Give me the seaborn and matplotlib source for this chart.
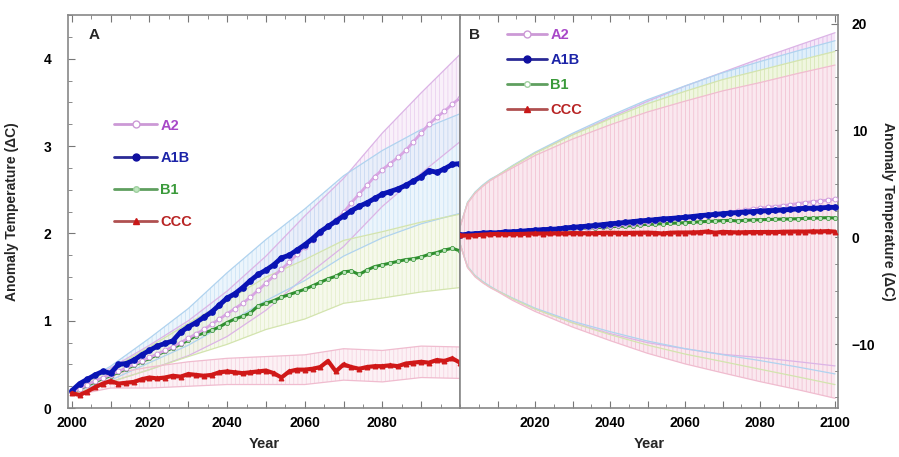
import numpy as np
import matplotlib
matplotlib.use("Agg")
import matplotlib.pyplot as plt
from matplotlib.lines import Line2D
from matplotlib.ticker import MultipleLocator
import seaborn as sns

# years of the mean curves (every 2 years)
years = np.arange(2000, 2101, 2)

a1b = [0.20, 0.28, 0.33, 0.38, 0.42, 0.40, 0.50, 0.51, 0.55, 0.61,
       0.66, 0.71, 0.74, 0.77, 0.87, 0.93, 0.98, 1.04, 1.10, 1.18,
       1.26, 1.31, 1.38, 1.46, 1.53, 1.58, 1.64, 1.72, 1.75, 1.81,
       1.87, 1.94, 2.02, 2.08, 2.14, 2.20, 2.26, 2.31, 2.35, 2.40,
       2.45, 2.48, 2.51, 2.55, 2.60, 2.65, 2.72, 2.70, 2.74, 2.79, 2.80]
a2 = [0.18, 0.22, 0.27, 0.31, 0.35, 0.38, 0.42, 0.46, 0.50, 0.54,
      0.58, 0.62, 0.66, 0.70, 0.75, 0.80, 0.85, 0.90, 0.96, 1.02,
      1.08, 1.14, 1.20, 1.27, 1.35, 1.43, 1.51, 1.59, 1.67, 1.76,
      1.85, 1.93, 2.01, 2.08, 2.15, 2.24, 2.35, 2.45, 2.55, 2.65,
      2.73, 2.80, 2.87, 2.95, 3.05, 3.15, 3.25, 3.33, 3.40, 3.48, 3.55]
b1 = [0.18, 0.22, 0.26, 0.30, 0.34, 0.37, 0.41, 0.45, 0.49, 0.53,
      0.57, 0.61, 0.65, 0.69, 0.73, 0.78, 0.83, 0.86, 0.89, 0.93,
      0.98, 1.02, 1.05, 1.09, 1.17, 1.20, 1.23, 1.27, 1.30, 1.33,
      1.36, 1.40, 1.44, 1.48, 1.51, 1.56, 1.57, 1.53, 1.58, 1.62,
      1.64, 1.66, 1.68, 1.70, 1.71, 1.73, 1.76, 1.78, 1.81, 1.83, 1.80]
ccc = [0.17, 0.15, 0.19, 0.24, 0.28, 0.31, 0.28, 0.29, 0.30, 0.33,
       0.35, 0.34, 0.35, 0.37, 0.36, 0.39, 0.38, 0.37, 0.38, 0.41,
       0.42, 0.41, 0.40, 0.41, 0.42, 0.43, 0.40, 0.35, 0.42, 0.44,
       0.44, 0.45, 0.47, 0.54, 0.42, 0.50, 0.47, 0.45, 0.47, 0.48,
       0.48, 0.49, 0.48, 0.51, 0.52, 0.53, 0.52, 0.55, 0.54, 0.57, 0.52]

# panel A: half width of the spread at each decade
band_years_a = [2000, 2010, 2020, 2030, 2040, 2050, 2060, 2070, 2080, 2090, 2100]
hw_a2 = [0.02, 0.08, 0.14, 0.20, 0.26, 0.31, 0.35, 0.39, 0.42, 0.46, 0.50]
hw_a1b = [0.02, 0.08, 0.14, 0.21, 0.29, 0.35, 0.41, 0.46, 0.50, 0.54, 0.57]
hw_b1 = [0.02, 0.07, 0.13, 0.19, 0.25, 0.30, 0.34, 0.36, 0.38, 0.40, 0.42]
hw_ccc = [0.03, 0.08, 0.12, 0.14, 0.15, 0.16, 0.17, 0.18, 0.18, 0.18, 0.18]

# panel B: half width of the (much larger) spread
band_years_b = [2000, 2002, 2004, 2006, 2008, 2010, 2014, 2020, 2030,
                2040, 2050, 2060, 2070, 2080, 2090, 2100]
hw_b = [0.8, 3.0, 3.9, 4.5, 5.0, 5.4, 6.2, 7.3, 8.8,
        10.1, 11.3, 12.3, 13.2, 14.0, 14.8, 15.6]

names = ["A2", "A1B", "B1", "CCC"]
means = {"A2": a2, "A1B": a1b, "B1": b1, "CCC": ccc}
hws_a = {"A2": hw_a2, "A1B": hw_a1b, "B1": hw_b1, "CCC": hw_ccc}

line_col = {"A2": "#d9a6e3", "A1B": "#0a14b4", "B1": "#2f8f2f", "CCC": "#d01818"}
text_col = {"A2": "#a848c8", "A1B": "#1c24a8", "B1": "#3a9a3a", "CCC": "#b82424"}
fill_col = {"A2": "#f5e6f8", "A1B": "#e0effa", "B1": "#f0f6e0", "CCC": "#fae8ef"}
hatch_col = {"A2": "#dcb4e6", "A1B": "#b0d3ef", "B1": "#d3e4ae", "CCC": "#f0bccf"}

sns.set_style("ticks")
plt.rcParams["font.family"] = ["Liberation Sans", "DejaVu Sans"]
plt.rcParams["font.weight"] = "bold"
plt.rcParams["hatch.linewidth"] = 0.5

fig = plt.figure(figsize=(8.99, 4.57), dpi=100)
axA = fig.add_axes([0.0756, 0.107, 0.4361, 0.860])
axB = fig.add_axes([0.5117, 0.107, 0.4205, 0.860])


def draw_band(ax, name, bx, hw, alpha):
    m = np.asarray(means[name])[np.isin(years, bx)]
    lo = m - np.asarray(hw)
    hi = m + np.asarray(hw)
    ax.fill_between(bx, lo, hi, facecolor=fill_col[name], edgecolor=hatch_col[name],
                    hatch="||||", linewidth=0, alpha=alpha, zorder=1)
    ax.plot(bx, lo, color=hatch_col[name], lw=0.9, zorder=2)
    ax.plot(bx, hi, color=hatch_col[name], lw=0.9, zorder=2)


def draw_means(ax):
    sns.lineplot(x=years, y=b1, ax=ax, color=line_col["B1"], lw=2.2, marker="o",
                 markersize=3, markerfacecolor="#bfe6bf", markeredgecolor=line_col["B1"],
                 markeredgewidth=0.5, zorder=4)
    sns.lineplot(x=years, y=a2, ax=ax, color=line_col["A2"], lw=2.0, marker="o",
                 markersize=3.5, markerfacecolor="white", markeredgecolor="#c890d8",
                 markeredgewidth=0.6, zorder=5)
    sns.lineplot(x=years, y=a1b, ax=ax, color=line_col["A1B"], lw=3.5, marker="o",
                 markersize=4, markeredgecolor=line_col["A1B"], zorder=6)
    sns.lineplot(x=years, y=ccc, ax=ax, color=line_col["CCC"], lw=3.0, marker="^",
                 markersize=3.5, markeredgecolor=line_col["CCC"], zorder=7)


# panel A
for n in names:
    draw_band(axA, n, band_years_a, hws_a[n], 0.6)
draw_means(axA)

# panel B
for n in names:
    draw_band(axB, n, band_years_b, hw_b, 1.0)
draw_means(axB)

axA.set_xlim(1999, 2100)
axA.set_ylim(0, 4.5)
axB.set_xlim(2000, 2100.8)
axB.set_ylim(-16, 20.8)

axA.set_xticks(range(2000, 2100, 10))
axA.set_xticklabels(["2000", "", "2020", "", "2040", "", "2060", "", "2080", ""])
axA.xaxis.set_minor_locator(MultipleLocator(5))
axA.set_yticks([0, 1, 2, 3, 4])
axA.yaxis.set_minor_locator(MultipleLocator(0.25))
axA.tick_params(which="both", direction="in", top=True, right=False,
                colors="#777777", labelcolor="black", labelsize=10)
axA.tick_params(which="major", length=5)
axA.tick_params(which="minor", length=3)
axA.tick_params(axis="y", pad=12)
axA.tick_params(axis="x", pad=6)

axB.set_xticks(range(2010, 2101, 10))
axB.set_xticklabels(["", "2020", "", "2040", "", "2060", "", "2080", "", "2100"])
axB.xaxis.set_minor_locator(MultipleLocator(5))
axB.yaxis.tick_right()
axB.yaxis.set_label_position("right")
axB.set_yticks([-10, 0, 10, 20])
axB.yaxis.set_minor_locator(MultipleLocator(2.5))
axB.tick_params(which="both", direction="in", top=True, left=False, right=True,
                colors="#777777", labelcolor="black", labelsize=10)
axB.tick_params(which="major", length=5)
axB.tick_params(which="minor", length=3)
axB.tick_params(axis="y", pad=10)
axB.tick_params(axis="x", pad=6)

for ax in (axA, axB):
    for s in ax.spines.values():
        s.set_color("#888888")
        s.set_linewidth(1.2)
    ax.set_xlabel("Year", fontsize=10.5, fontweight="bold", labelpad=5)
    for lab in ax.get_xticklabels() + ax.get_yticklabels():
        lab.set_fontweight("bold")

axA.set_ylabel("Anomaly Temperature (\u0394C)", fontsize=10, fontweight="bold", labelpad=18)
axB.set_ylabel("Anomaly Temperature (\u0394C)", fontsize=10, fontweight="bold",
               rotation=270, labelpad=14)

axA.text(0.052, 0.94, "A", transform=axA.transAxes, fontsize=11, fontweight="bold")
axB.text(0.025, 0.94, "B", transform=axB.transAxes, fontsize=11, fontweight="bold")


def legend_handles(b1_face):
    return [
        Line2D([], [], color="#cc99d6", lw=2, marker="o", markersize=5,
               markerfacecolor="white", markeredgecolor="#cc99d6"),
        Line2D([], [], color="#2a2a96", lw=2, marker="o", markersize=5,
               markerfacecolor="#1010a0", markeredgecolor="#1010a0"),
        Line2D([], [], color="#5f9f5f", lw=2, marker="o", markersize=4,
               markerfacecolor=b1_face, markeredgecolor="#9fd09f"),
        Line2D([], [], color="#b05050", lw=2, marker="^", markersize=4,
               markerfacecolor="#c81818", markeredgecolor="#c81818"),
    ]


legA = axA.legend(legend_handles("#bfe6bf"), names, loc="upper left",
                  bbox_to_anchor=(0.085, 0.77), frameon=False, handlelength=2.9,
                  handletextpad=0.25, labelspacing=1.25, prop={"weight": "bold", "size": 10.5})
for t, n in zip(legA.get_texts(), names):
    t.set_color(text_col[n])

legB = axB.legend(legend_handles("white"), names, loc="upper left",
                  bbox_to_anchor=(0.09, 1.0), frameon=False, handlelength=2.7,
                  handletextpad=0.25, labelspacing=0.75, prop={"weight": "bold", "size": 10.5})
for t, n in zip(legB.get_texts(), names):
    t.set_color(text_col[n])

fig.savefig("out.png", dpi=100)
